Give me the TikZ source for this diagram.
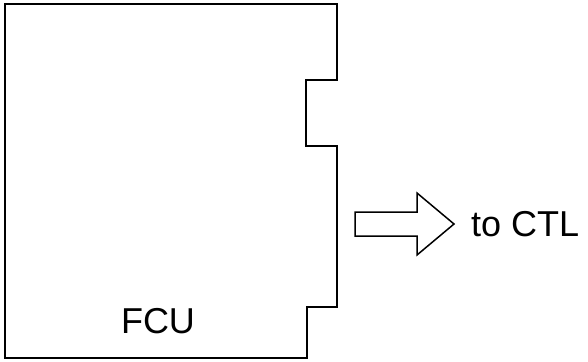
\documentclass[tikz,border=0pt]{standalone}
\usepackage{fontspec}
\setmainfont{Liberation Sans}
\usetikzlibrary{positioning}
\tikzset{
  board/.style={line width=1.8pt, line join=miter},
  bigarrow/.style={line width=1.5pt, line join=miter},
  lbl/.style={font=\fontsize{36}{42}\selectfont, inner sep=0pt}
}

\begin{document}
\begin{tikzpicture}[x=1pt, y=-1pt]
    \useasboundingbox (0,0) rectangle (588,361);
    % card outline with the two notches
    \draw[board] (5,4) -- (337,4) -- (337,80) -- (306,80) -- (306,146) -- (337,146)
      -- (337,307) -- (307,307) -- (307,358) -- (5,358) -- cycle;
    \node[lbl] (fcu) at (158,321) {FCU};
    \node[lbl, anchor=west] (ctl) at (471,224) {to CTL};
    \draw[bigarrow] (355,212) -- (417,212) -- (417,193) -- (454,224) -- (417,255)
      -- (417,236) -- (355,236) -- cycle;
  \end{tikzpicture}
\end{document}
